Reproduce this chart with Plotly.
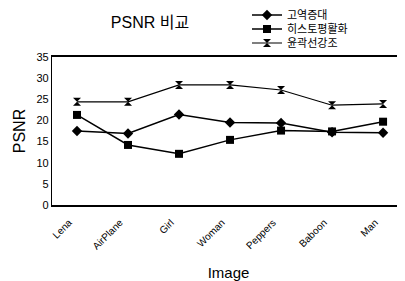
import plotly.graph_objects as go

images = ["Lena", "AirPlane", "Girl", "Woman", "Peppers", "Baboon", "Man"]
high_boost = [17.5, 16.9, 21.4, 19.5, 19.4, 17.2, 17.1]      # 고역증대
hist_eq = [21.3, 14.2, 12.1, 15.4, 17.6, 17.4, 19.7]         # 히스토평활화
edge_enh = [24.4, 24.4, 28.4, 28.4, 27.2, 23.6, 23.9]        # 윤곽선강조
y_ticks = [0, 5, 10, 15, 20, 25, 30, 35]

FONT = "Liberation Sans, Arial, Noto Sans CJK KR, sans-serif"
W, H, OFF = 397, 273, 8   # page body has an 8px margin

fig = go.Figure()
fig.add_trace(go.Scatter(x=images, y=high_boost, name="고역증대", mode="lines+markers",
                         line=dict(color="black", width=1.5), legend="legend",
                         marker=dict(symbol="diamond", size=8, color="black")))
fig.add_trace(go.Scatter(x=images, y=hist_eq, name="히스토평활화", mode="lines+markers",
                         line=dict(color="black", width=1.5), legend="legend2",
                         marker=dict(symbol="square", size=8, color="black")))
fig.add_trace(go.Scatter(x=images, y=edge_enh, name="윤곽선강조", mode="lines+markers",
                         line=dict(color="black", width=1.2), legend="legend3",
                         marker=dict(symbol="hourglass", size=8, color="black")))

leg_common = dict(xref="container", yref="container", xanchor="left", yanchor="middle",
                  font=dict(size=11), itemwidth=30, bgcolor="rgba(0,0,0,0)",
                  borderwidth=0)
lx = (247 - OFF) / W

fig.update_layout(
    width=W, height=H,
    margin=dict(l=52 - OFF, r=0, t=57 - OFF, b=76, autoexpand=False),
    paper_bgcolor="white", plot_bgcolor="white",
    font=dict(family=FONT, color="black", size=10),
    title=dict(text="PSNR 비교", x=(150 - OFF) / W, xref="container", xanchor="center",
               y=1 - (22 - OFF) / H, yref="container", yanchor="middle",
               font=dict(size=16, family=FONT)),
    legend=dict(x=lx, y=1 - (15 - OFF) / H, **leg_common),
    legend2=dict(x=lx, y=1 - (29 - OFF) / H, **leg_common),
    legend3=dict(x=lx, y=1 - (43 - OFF) / H, **leg_common),
    showlegend=True,
)
fig.update_xaxes(range=[-0.49, 6.43], showline=True, linecolor="black", linewidth=1.8,
                 mirror=True, showgrid=False, tickangle=-45, tickfont=dict(size=10),
                 ticks="", automargin=False, ticklabelshift=-8, ticklabelstandoff=6,
                 title=dict(text="Image", font=dict(size=15), standoff=22))
fig.update_yaxes(range=[0, 35], tickvals=y_ticks, showline=True, linecolor="black",
                 linewidth=1.2, showgrid=False, zeroline=False, ticks="",
                 tickfont=dict(size=11), automargin=False,
                 title=dict(text="PSNR", font=dict(size=16), standoff=6))

fig.write_html("out.html")
